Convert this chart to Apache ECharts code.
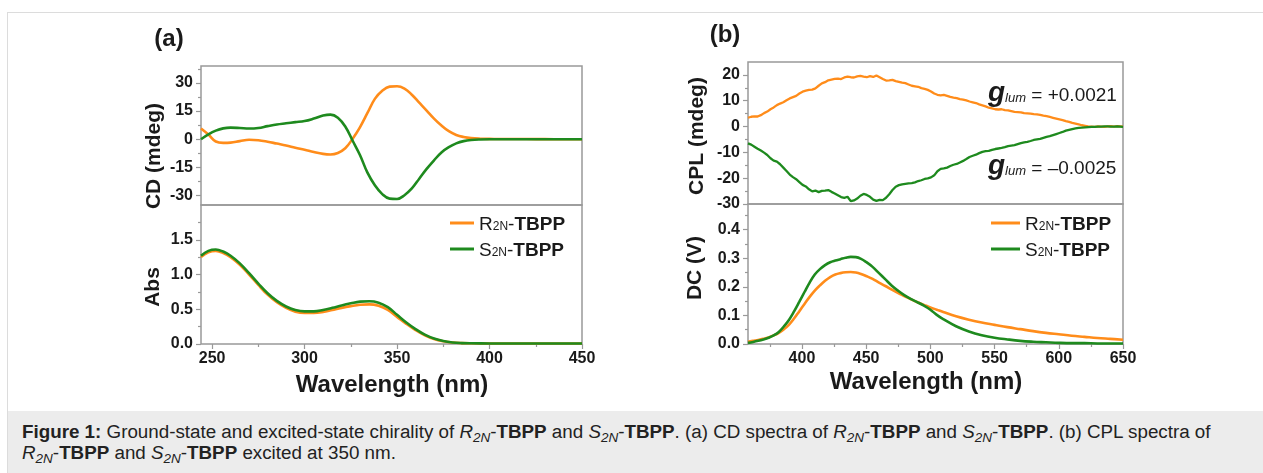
<!DOCTYPE html>
<html><head><meta charset="utf-8">
<script src="https://cdn.jsdelivr.net/npm/echarts@6/dist/echarts.min.js"></script>
<style>
html,body{margin:0;padding:0;width:1263px;height:473px;overflow:hidden;background:#fff;font-family:"Liberation Sans",Arial,sans-serif;}
#frame{position:absolute;left:7px;top:12px;right:-2px;bottom:-2px;border-left:1px solid #dcdcdc;border-top:1px solid #dcdcdc;}
#cap{position:absolute;left:8px;top:411px;right:0;bottom:0;background:#ececec;color:#222;font-size:18.8px;line-height:21px;padding:10px 0 0 14px;box-sizing:border-box;white-space:nowrap;}
#cap sub{font-size:0.72em;line-height:0;vertical-align:-0.28em;}
#chart{position:absolute;left:0;top:0;width:1263px;height:473px;}
</style></head>
<body>
<div id="frame"></div>
<div id="cap"><b>Figure 1:</b> Ground-state and excited-state chirality of <i>R<sub>2N</sub></i>-<b>TBPP</b> and <i>S<sub>2N</sub></i>-<b>TBPP</b>. (a) CD spectra of <i>R<sub>2N</sub></i>-<b>TBPP</b> and <i>S<sub>2N</sub></i>-<b>TBPP</b>. (b) CPL spectra of<br><i>R<sub>2N</sub></i>-<b>TBPP</b> and <i>S<sub>2N</sub></i>-<b>TBPP</b> excited at 350 nm.</div>
<div id="chart"></div>
<script>
// ---- CD spectra (panel a, top) ----
const cdWl = [244,248,252,256,260,265,270,275,280,285,290,295,300,305,310,314,318,322,326,330,334,338,342,346,350,354,358,362,366,370,374,378,382,386,390,395,400,410,420,430,440,450];
const cdR  = [5.7,2.5,-1.2,-1.9,-1.8,-1.0,-0.3,-0.5,-1.3,-2.3,-3.3,-4.5,-5.6,-6.8,-7.8,-8.1,-7.3,-4.8,0.3,6.5,14,21.5,25.8,28,28.2,27,23.7,19.5,15.3,11,7.3,4.3,2.3,1.2,0.6,0.3,0.2,0.1,0.1,0.05,0,0];
const cdS  = [0,2.6,4.6,5.8,6.2,6.0,5.7,6.0,7.0,7.9,8.5,9.1,9.7,11.0,12.6,13.1,11.5,6.8,-0.8,-8.5,-17.8,-24.5,-29.2,-31.6,-31.8,-29.8,-26.2,-21,-15.8,-11.2,-7.0,-4.2,-2.2,-1.0,-0.4,-0.1,0,0,0,0,0,0];
// ---- Absorption (panel a, bottom) ----
const absWl = [244,248,252,256,260,265,270,275,280,285,290,295,300,305,310,315,320,325,330,335,340,345,350,355,360,365,370,375,380,385,390,400,420,450];
const absR  = [1.25,1.32,1.34,1.31,1.25,1.14,1.0,0.85,0.71,0.6,0.52,0.465,0.445,0.445,0.46,0.49,0.52,0.545,0.565,0.57,0.55,0.49,0.39,0.29,0.2,0.125,0.072,0.04,0.021,0.013,0.01,0.008,0.008,0.008];
const absS  = [1.27,1.34,1.36,1.33,1.27,1.16,1.02,0.87,0.73,0.62,0.54,0.49,0.47,0.47,0.49,0.52,0.555,0.585,0.61,0.615,0.595,0.53,0.42,0.31,0.215,0.135,0.078,0.042,0.022,0.013,0.01,0.008,0.008,0.008];
// ---- CPL (panel b, top) ----
const cplWl = [358,360.5,363,365.5,368,370.5,373,375.5,378,380.5,383,385.5,388,390.5,393,395.5,398,400.5,403,405.5,408,410.5,413,415.5,418,420.5,423,425.5,428,430.5,433,435.5,438,440.5,443,445.5,448,450.5,453,455.5,458,460.5,463,465.5,468,470.5,473,475.5,478,480.5,483,485.5,488,490.5,493,495.5,498,500.5,503,505.5,508,510.5,513,515.5,518,520.5,523,525.5,528,530.5,533,535.5,538,540.5,543,545.5,548,550.5,553,555.5,558,560.5,563,565.5,568,570.5,573,575.5,578,580.5,583,585.5,588,590.5,593,595.5,598,600.5,603,605.5,608,610.5,613,615.5,618,620.5,623,625.5,628,630.5,633,635.5,638,640.5,643,645.5,648,650];
const cplR  = [3.4,3.8,3.9,3.9,4.4,5.2,5.8,6.7,7.4,8.3,8.9,9.4,10.2,10.9,11.4,11.9,12.8,13.5,13.9,14.2,14.3,14.8,15.8,16.7,17.2,17.9,18.2,18.5,18.6,18.4,19.0,19.3,19.1,19.0,19.4,19.6,19.3,19.1,19.5,19.2,19.8,19.1,18.4,17.8,17.9,18.1,17.6,17.3,17.0,16.8,16.3,15.8,15.6,15.4,14.9,14.6,14.2,13.6,12.8,12.3,12.1,12.3,11.9,11.5,11.2,11.0,10.6,10.4,10.1,9.7,9.4,9.1,8.6,8.2,7.8,7.3,7.0,6.7,6.6,6.7,6.4,6.3,6.0,5.7,5.6,5.5,5.2,5.1,5.0,4.8,4.7,4.5,4.2,4.0,3.7,3.4,3.1,2.8,2.5,2.1,1.8,1.4,1.1,0.8,0.5,0.3,0.1,0.0,-0.1,0.1,0.0,-0.1,0.1,0.2,0.0,0.2,0.1,0.0];
const cplS  = [-6.5,-7.0,-7.8,-8.6,-9.3,-10.1,-11.0,-12.3,-13.2,-13.6,-14.6,-15.9,-17.2,-18.6,-19.6,-20.4,-21.5,-22.6,-23.2,-24.3,-25.1,-24.8,-25.4,-24.9,-24.8,-24.6,-25.3,-25.9,-26.6,-27.3,-27.6,-27.2,-28.9,-28.6,-27.9,-26.8,-26.1,-26.5,-27.2,-28.3,-28.8,-28.4,-28.5,-27.6,-26.2,-24.6,-23.3,-22.7,-22.4,-22.2,-22.0,-21.9,-21.6,-21.1,-20.8,-20.3,-20.1,-19.7,-18.9,-17.3,-16.4,-16.2,-15.9,-15.3,-14.8,-14.5,-13.9,-13.3,-12.6,-11.8,-11.3,-10.9,-10.3,-9.8,-9.5,-9.4,-9.0,-8.7,-8.5,-8.3,-8.0,-7.6,-7.4,-7.2,-6.8,-6.4,-6.1,-5.9,-5.6,-5.2,-5.0,-4.8,-4.4,-4.0,-3.7,-3.3,-2.9,-2.5,-2.1,-1.6,-1.3,-1.0,-0.7,-0.5,-0.4,-0.3,-0.2,-0.1,-0.1,0.0,0.0,0.1,0.1,0.0,0.0,0.1,0.0,-0.1];
// ---- DC (panel b, bottom) ----
const dcWl = [358,362,366,370,374,378,382,386,390,394,398,402,406,410,414,418,422,426,430,434,438,442,446,450,455,460,465,470,475,480,485,490,495,500,505,510,520,530,540,550,560,570,580,590,600,610,620,630,640,650];
const dcR  = [0.008,0.011,0.014,0.018,0.023,0.03,0.039,0.052,0.068,0.09,0.115,0.14,0.165,0.187,0.205,0.221,0.234,0.243,0.248,0.251,0.252,0.25,0.245,0.238,0.228,0.215,0.203,0.19,0.178,0.167,0.156,0.146,0.137,0.128,0.12,0.112,0.097,0.085,0.075,0.067,0.059,0.052,0.045,0.039,0.034,0.029,0.025,0.021,0.018,0.015];
const dcS  = [0.004,0.007,0.011,0.016,0.022,0.03,0.042,0.062,0.085,0.115,0.148,0.182,0.215,0.243,0.262,0.276,0.286,0.292,0.297,0.302,0.305,0.304,0.298,0.287,0.27,0.248,0.226,0.204,0.186,0.17,0.157,0.146,0.134,0.12,0.102,0.087,0.062,0.044,0.031,0.022,0.016,0.011,0.008,0.006,0.004,0.003,0.003,0.002,0.002,0.002];
// ---- tick labels ----
const xTicksA = [250,300,350,400,450], xMinorA = [275,325,375,425];
const xTicksB = [400,450,500,550,600,650], xMinorB = [375,425,475,525,575,625];
const cdTicks = [-30,-15,0,15,30], cdMinor = [-22.5,-7.5,7.5,22.5,37.5];
const absTicks = [0,0.5,1.0,1.5], absMinor = [0.25,0.75,1.25,1.75];
const cplTicks = [-30,-20,-10,0,10,20], cplMinor = [-25,-15,-5,5,15];
const dcTicks = [0,0.1,0.2,0.3,0.4], dcMinor = [0.05,0.15,0.25,0.35,0.45];
const names = ['R2N-TBPP','S2N-TBPP'];

const FF = '"Liberation Sans", Arial, sans-serif';
const ORANGE = '#ff8c1a', GREEN = '#1e8a1e', AX = '#999999', TXT = '#1a1a1a';
const zip = (a,b) => a.map((x,i)=>[x,b[i]]);

function xAx(grid, min, max, ticks, labels, minor){
  const base = {type:'value', gridIndex:grid, min, max, position:'bottom', splitLine:{show:false},
    axisLine:{show:false}};
  if(!ticks){ return Object.assign(base,{axisTick:{show:false}, axisLabel:{show:false}}); }
  return Object.assign(base,{
    axisTick:{show:true, customValues:ticks, length:minor?3:5, lineStyle:{color:AX,width:1.2}},
    axisLabel:{show:labels, customValues:ticks, margin:7, color:TXT, fontFamily:FF, fontWeight:'bold', fontSize:16}
  });
}
function yAx(grid, min, max, ticks, labels, minor, fmt){
  return {type:'value', gridIndex:grid, min, max, position:'left', splitLine:{show:false}, axisLine:{show:false},
    axisTick:{show:true, customValues:ticks, length:minor?3:5, lineStyle:{color:AX,width:1.2}},
    axisLabel:{show:labels, customValues:ticks, margin:8, color:TXT, fontFamily:FF, fontWeight:'bold', fontSize:16, formatter:fmt}};
}
const f1 = v => v.toFixed(1);
const gridStyle = {show:true, borderColor:AX, borderWidth:1.5, backgroundColor:'transparent'};

function ser(name, color, xi, yi, data, smooth, w){
  return {name, type:'line', xAxisIndex:xi, yAxisIndex:yi, data, symbol:'none', smooth,
    lineStyle:{color, width:w||2.6}, itemStyle:{color}, z:2};
}
const legendRich = {
  a:{fontSize:19, fontFamily:FF, color:TXT, verticalAlign:'bottom', lineHeight:22},
  s:{fontSize:12, fontFamily:FF, color:TXT, verticalAlign:'bottom', lineHeight:22, padding:[0,0,1,0]},
  b:{fontSize:19, fontFamily:FF, fontWeight:'bold', color:TXT, verticalAlign:'bottom', lineHeight:22}
};
const legFmt = n => '{a|' + n[0] + '}{s|2N}{a|-}{b|TBPP}';
function leg(left, w){
  return {data:names, orient:'vertical', left, top:215, padding:0, icon:'rect', itemWidth:w, itemHeight:3, itemGap:7,
    formatter:legFmt, textStyle:{rich:legendRich, fontSize:19, fontFamily:FF}, selectedMode:false};
}
function vText(txt, x, y, size){
  return {type:'text', x, y, rotation:Math.PI/2, style:{text:txt, fill:TXT, font:'bold '+size+'px '+FF, align:'center', verticalAlign:'middle'}};
}
function hText(txt, x, y, size){
  return {type:'text', x, y, style:{text:txt, fill:TXT, font:'bold '+size+'px '+FF, align:'center', verticalAlign:'middle'}};
}
function gText(val, x, y){
  return {type:'text', x, y, style:{text:'{g|g}{l|lum}{t|' + val + '}', fill:TXT, align:'left', verticalAlign:'middle',
    rich:{g:{font:'italic bold 28px '+FF, fill:TXT, verticalAlign:'bottom', lineHeight:30},
          l:{font:'italic 13px '+FF, fill:TXT, verticalAlign:'bottom', lineHeight:30, padding:[0,0,2,0]},
          t:{font:'19px '+FF, fill:TXT, verticalAlign:'bottom', lineHeight:30, padding:[0,0,2,0]}}}};
}

const option = {
  animation:false,
  grid:[
    Object.assign({left:201, width:381, top:66, height:139}, gridStyle),
    Object.assign({left:201, width:381, top:205, height:139}, gridStyle),
    Object.assign({left:748, width:375, top:62, height:142}, gridStyle),
    Object.assign({left:748, width:375, top:204, height:140}, gridStyle)
  ],
  xAxis:[
    xAx(0,244,450,null),
    xAx(1,244,450,xTicksA,true,false),
    xAx(1,244,450,xMinorA,false,true),
    xAx(2,358,650,null),
    xAx(3,358,650,xTicksB,true,false),
    xAx(3,358,650,xMinorB,false,true)
  ],
  yAxis:[
    yAx(0,-35,39,cdTicks,true,false),
    yAx(0,-35,39,cdMinor,false,true),
    yAx(1,0,2.0,absTicks,true,false,f1),
    yAx(1,0,2.0,absMinor,false,true),
    yAx(2,-30,25,cplTicks,true,false),
    yAx(2,-30,25,cplMinor,false,true),
    yAx(3,0,0.49,dcTicks,true,false,f1),
    yAx(3,0,0.49,dcMinor,false,true)
  ],
  legend:[leg(450,24), leg(991,29)],
  series:[
    ser(names[0],ORANGE,0,0,zip(cdWl,cdR),0.4),
    ser(names[1],GREEN,0,0,zip(cdWl,cdS),0.4),
    ser(names[0],ORANGE,1,2,zip(absWl,absR),0.4),
    ser(names[1],GREEN,1,2,zip(absWl,absS),0.4),
    ser(names[0],ORANGE,3,4,zip(cplWl,cplR),false,2.3),
    ser(names[1],GREEN,3,4,zip(cplWl,cplS),false,2.3),
    ser(names[0],ORANGE,4,6,zip(dcWl,dcR),0.4),
    ser(names[1],GREEN,4,6,zip(dcWl,dcS),0.4)
  ],
  graphic:[
    hText('(a)',169,39,24),
    hText('(b)',725,35,24),
    vText('CD (mdeg)',154,156,21),
    vText('Abs',153,287,21),
    vText('CPL (mdeg)',697,136,21),
    vText('DC (V)',695,268,21),
    hText('Wavelength (nm)',392,385,24),
    hText('Wavelength (nm)',926,382,24),
    gText(' = +0.0021',988,92),
    gText(' = \u20130.0025',988,165)
  ]
};
const chart = echarts.init(document.getElementById('chart'), null, {renderer:'canvas'});
chart.setOption(option);
</script>
</body></html>
